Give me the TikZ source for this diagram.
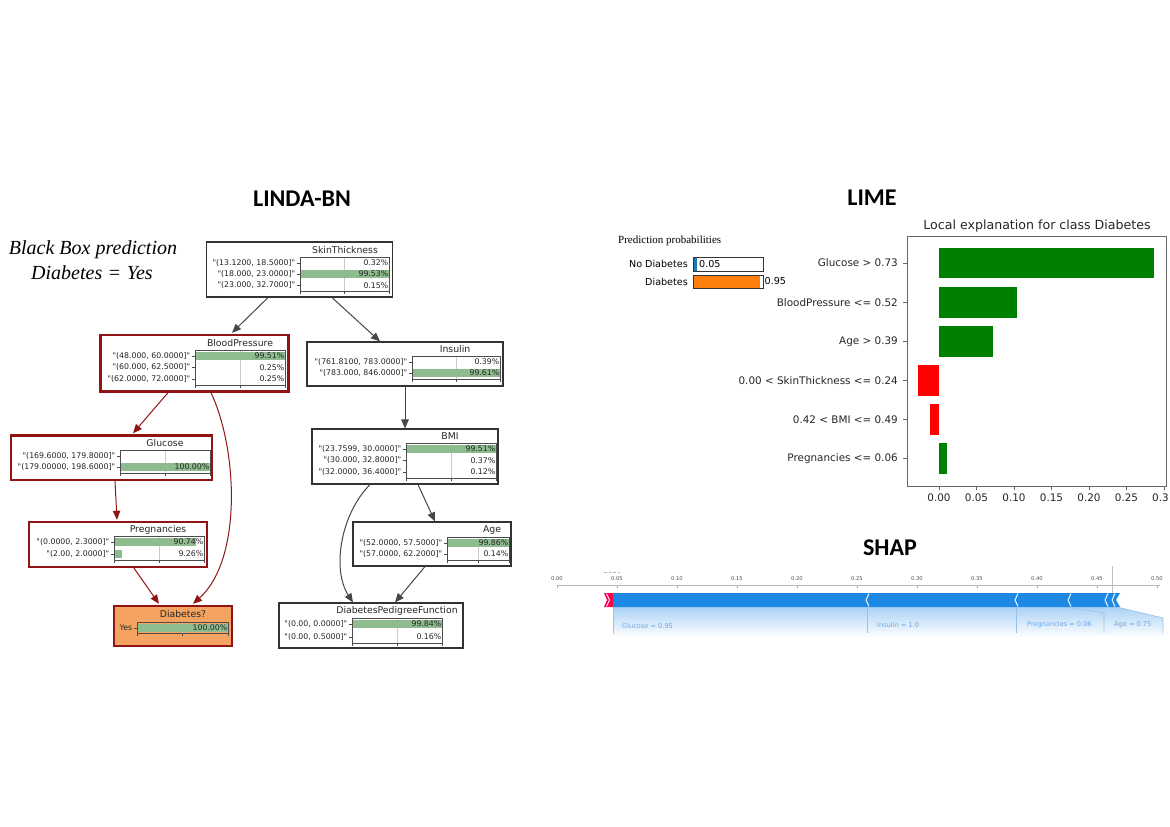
\documentclass[tikz,border=0pt]{standalone}
\usepackage{fontspec}
\newfontfamily\dv{DejaVu Sans}
\newfontfamily\carl{Carlito}
\newfontfamily\lser{Liberation Serif}
\usetikzlibrary{arrows.meta}
\definecolor{bngreen}{RGB}{143,188,143}
\definecolor{bnred}{RGB}{145,20,20}
\definecolor{diabfill}{RGB}{244,164,96}
\definecolor{edgegray}{RGB}{70,70,70}
\definecolor{limegreen}{RGB}{0,128,0}
\definecolor{limered}{RGB}{255,0,0}
\definecolor{pblue}{RGB}{31,119,180}
\definecolor{porange}{RGB}{255,127,14}
\definecolor{shapblue}{RGB}{30,136,229}
\definecolor{shapred}{RGB}{255,0,81}
\definecolor{shaplab}{RGB}{110,165,230}
\tikzset{
  bnbox/.style={draw=black!80, line width=1.1pt, fill=white, inner sep=0pt},
  bnredbox/.style={draw=bnred, line width=2.4pt, fill=white, inner sep=0pt},
  bntitle/.style={font=\dv\fontsize{9.3}{10}\selectfont, text=black!85, inner sep=0pt},
  rowlab/.style={font=\dv\fontsize{7.8}{8}\selectfont, text=black!85, inner sep=0pt},
  pctlab/.style={font=\dv\fontsize{7.8}{8}\selectfont, text=black!85, inner sep=0pt},
  bnedge/.style={draw=edgegray, line width=1pt, -{Triangle[length=9pt,width=7.5pt]}},
  rededge/.style={draw=bnred, line width=1pt, -{Triangle[length=9pt,width=7.5pt]}},
  limelab/.style={font=\dv\fontsize{10.4}{12}\selectfont, text=black!85, inner sep=0pt},
  shapt/.style={font=\dv\fontsize{5.2}{6}\selectfont, text=black!70, inner sep=0pt},
  shapl/.style={font=\dv\fontsize{6.6}{8}\selectfont, text=shaplab, inner sep=0pt, anchor=west},
  bigtitle/.style={font=\carl\bfseries\fontsize{24}{28}\selectfont, inner sep=0pt}
}
% rows: x1, x2, y, label, fraction, pct
\newcommand{\bnrow}[6]{%
  \fill[bngreen] (#1,{#3-4}) rectangle ({#1+(#2-#1)*#5},{#3+4});
  \draw[black!70, line width=0.6pt] ({#1-3},#3) -- (#1,#3);
  \node[rowlab, anchor=east] at ({#1-4.5},#3) {#4};
  \node[pctlab, anchor=east] at ({#2-0.5},#3) {#6};
}
% area: x1, x2, ytop, ybot, rows
\newcommand{\bnarea}[5]{%
  \draw[gray!40, line width=0.5pt] ({(#1+#2)/2},#3) -- ({(#1+#2)/2},#4);
  #5
  \draw[black!70, line width=0.6pt] (#1,#3) rectangle (#2,#4);
  \draw[black!70, line width=0.6pt] (#1,#4) -- ++(0,2.5) ({(#1+#2)/2},#4) -- ++(0,2.5) (#2,#4) -- ++(0,2.5);
}
\begin{document}
\begin{tikzpicture}[x=1pt,y=-1pt]
\useasboundingbox[fill=white] (0,0) rectangle (1170,827);

% ---------------- titles ----------------
\node[bigtitle] (t1) at (302,199) {LINDA-BN};
\node[bigtitle] (t2) at (872,198) {LIME};
\node[bigtitle] (t3) at (890,548) {SHAP};
\node[font=\lser\itshape\fontsize{20}{24}\selectfont, inner sep=0pt] (bb1) at (93,250) {Black Box prediction};
\node[font=\lser\itshape\fontsize{20}{24}\selectfont, inner sep=0pt] (bb2) at (92,273) {Diabetes\hspace{0.33em}\textup{=}\hspace{0.33em}Yes};

% ---------------- LINDA-BN nodes ----------------
\node[bnbox, minimum width=186pt, minimum height=55pt] (st) at (299.5,269.5) {};
\node[bntitle] (stt) at (345,250) {SkinThickness};
\bnarea{300}{389}{257.5}{291.5}{%
  \bnrow{300}{389}{263}{"(13.1200, 18.5000]"}{0}{0.32\%}
  \bnrow{300}{389}{274}{"(18.000, 23.0000]"}{1}{99.53\%}
  \bnrow{300}{389}{285.5}{"(23.000, 32.7000]"}{0}{0.15\%}}

\node[bnbox, minimum width=196pt, minimum height=44pt] (ins) at (405,364) {};
\node[bntitle] (inst) at (455,349) {Insulin};
\bnarea{412}{500}{356}{379}{%
  \bnrow{412}{500}{362}{"(761.8100, 783.0000]"}{0}{0.39\%}
  \bnrow{412}{500}{373}{"(783.000, 846.0000]"}{1}{99.61\%}}

\node[bnredbox, minimum width=188pt, minimum height=56.5pt] (bp) at (194.5,363.25) {};
\node[bntitle] (bpt) at (240,343) {BloodPressure};
\bnarea{195}{285}{350}{385}{%
  \bnrow{195}{285}{356}{"(48.000, 60.0000]"}{1}{99.51\%}
  \bnrow{195}{285}{367.5}{"(60.000, 62.5000]"}{0}{0.25\%}
  \bnrow{195}{285}{379}{"(62.0000, 72.0000]"}{0}{0.25\%}}

\node[bnredbox, minimum width=201pt, minimum height=44.5pt] (glu) at (111.5,457.75) {};
\node[bntitle] (glut) at (165,443) {Glucose};
\bnarea{120}{210}{450}{473}{%
  \bnrow{120}{210}{456}{"(169.6000, 179.8000]"}{0}{}
  \bnrow{120}{210}{467}{"(179.00000, 198.6000]"}{1}{100.00\%}}

\node[bnredbox, minimum width=178pt, minimum height=45pt] (preg) at (118,544.5) {};
\node[bntitle] (pregt) at (158,530) {Pregnancies};
\bnarea{114}{204}{536}{560}{%
  \bnrow{114}{204}{542}{"(0.0000, 2.3000]"}{0.9074}{90.74\%}
  \bnrow{114}{204}{554}{"(2.00, 2.0000]"}{0.0926}{9.26\%}}

\node[bnredbox, fill=diabfill, minimum width=118pt, minimum height=40pt] (diab) at (173,626) {};
\node[bntitle] (diabt) at (183,614) {Diabetes?};
\bnarea{137}{228}{622.5}{633.5}{%
  \bnrow{137}{228}{628}{Yes}{1}{100.00\%}}

\node[bnbox, minimum width=186pt, minimum height=55pt] (bmi) at (405,456.5) {};
\node[bntitle] (bmit) at (450,436) {BMI};
\bnarea{406}{496}{443}{478}{%
  \bnrow{406}{496}{449}{"(23.7599, 30.0000]"}{1}{99.51\%}
  \bnrow{406}{496}{460.5}{"(30.000, 32.8000]"}{0}{0.37\%}
  \bnrow{406}{496}{472}{"(32.0000, 36.4000]"}{0}{0.12\%}}

\node[bnbox, minimum width=158pt, minimum height=44pt] (age) at (432,544) {};
\node[bntitle] (aget) at (492,530) {Age};
\bnarea{447}{509}{537}{560}{%
  \bnrow{447}{509}{543}{"(52.0000, 57.5000]"}{1}{99.86\%}
  \bnrow{447}{509}{554}{"(57.0000, 62.2000]"}{0}{0.14\%}}

\node[bnbox, minimum width=184pt, minimum height=45pt] (dpf) at (371,625.5) {};
\node[bntitle] (dpft) at (397,611) {DiabetesPedigreeFunction};
\bnarea{352}{442}{618}{643}{%
  \bnrow{352}{442}{624}{"(0.00, 0.0000]"}{1}{99.84\%}
  \bnrow{352}{442}{637}{"(0.00, 0.5000]"}{0}{0.16\%}}

% ---------------- LINDA-BN edges ----------------
\draw[bnedge] ([xshift=-31.5pt]st.south) -- ([xshift=37.5pt,yshift=1pt]bp.north);
\draw[bnedge] ([xshift=32.5pt]st.south) -- ([xshift=-25pt]ins.north);
\draw[bnedge] (ins.south) -- (bmi.north);
\draw[rededge] ([xshift=-26.5pt]bp.south) -- ([xshift=21.5pt,yshift=1pt]glu.north);
\draw[rededge] ([xshift=16.5pt]bp.south) .. controls (238,450) and (242,560) .. ([xshift=20pt,yshift=1pt]diab.north);
\draw[rededge] ([xshift=3.5pt]glu.south) -- ([xshift=-1pt,yshift=1pt]preg.north);
\draw[rededge] ([xshift=16pt]preg.south) -- ([xshift=-14pt,yshift=1pt]diab.north);
\draw[bnedge] ([xshift=-35pt]bmi.south) .. controls (340,515) and (332,570) .. ([xshift=-18pt]dpf.north);
\draw[bnedge] ([xshift=13pt]bmi.south) -- ([xshift=3pt]age.north);
\draw[bnedge] ([xshift=-7pt]age.south) -- ([xshift=24pt]dpf.north);

% ---------------- LIME prediction probabilities ----------------
\node[font=\lser\fontsize{11}{13}\selectfont, inner sep=0pt, anchor=west] (pp) at (618,241) {Prediction probabilities};
\node[font=\dv\fontsize{9.6}{11}\selectfont, inner sep=0pt, anchor=east] (nd) at (688,264) {No Diabetes};
\node[font=\dv\fontsize{9.6}{11}\selectfont, inner sep=0pt, anchor=east] (dd) at (688,281.5) {Diabetes};
\fill[pblue] (693,257) rectangle (696.5,271);
\draw[black!80, line width=0.7pt] (693,257) rectangle (763,271);
\node[font=\dv\fontsize{9.6}{11}\selectfont, inner sep=0pt, anchor=west] (ndv) at (699,264) {0.05};
\fill[porange] (693,275) rectangle (760,288);
\draw[black!80, line width=0.7pt] (693,275) rectangle (763,288);
\node[font=\dv\fontsize{9.6}{11}\selectfont, inner sep=0pt, anchor=west] (ddv) at (764.5,281.5) {0.95};

% ---------------- LIME chart ----------------
\node[font=\dv\fontsize{12.6}{14}\selectfont, text=black!85, inner sep=0pt] (lt) at (1037,226) {Local explanation for class Diabetes};
\fill[limegreen] (939,248) rectangle (1154,278);
\fill[limegreen] (939,287) rectangle (1017,318);
\fill[limegreen] (939,326) rectangle (993,357);
\fill[limered] (918,365) rectangle (939,396);
\fill[limered] (930,404) rectangle (939,435);
\fill[limegreen] (939,443) rectangle (947,474);
\draw[black!60, line width=1pt] (907,236) rectangle (1166,486);
\foreach \yy/\lab in {263/{Glucose > 0.73}, 302.5/{BloodPressure <= 0.52}, 341.5/{Age > 0.39},
  380.5/{0.00 < SkinThickness <= 0.24}, 419.5/{0.42 < BMI <= 0.49}, 458.5/{Pregnancies <= 0.06}}{
  \draw[black!60, line width=0.8pt] (903,\yy) -- (907,\yy);
  \node[limelab, anchor=east] at (898,\yy) {\lab};
}
\foreach \i/\lab in {0/0.00, 1/0.05, 2/0.10, 3/0.15, 4/0.20, 5/0.25}{
  \draw[black!60, line width=0.8pt] ({939+37.5*\i},486) -- ({939+37.5*\i},490);
  \node[limelab] at ({939+37.5*\i},497.5) {\lab};
}
\draw[black!60, line width=0.8pt] (1164,486) -- (1164,490);
\node[limelab, anchor=west] at (1152,497.5) {0.3};

% ---------------- SHAP ----------------
\draw[black!25, line width=0.5pt] (1112,566) -- (1112,593);
\draw[gray!60, line width=0.8pt, dash pattern=on 2.5pt off 2pt] (604,572) -- (622,572);
\draw[gray!55, line width=0.8pt] (557,585.5) -- (1160,585.5);
\foreach \i/\lab in {0/0.00,1/0.05,2/0.10,3/0.15,4/0.20,5/0.25,6/0.30,7/0.35,8/0.40,9/0.45,10/0.50}{
  \draw[gray!70, line width=0.5pt] ({557+60*\i},585.5) -- ({557+60*\i},588);
  \node[shapt] at ({557+60*\i},579) {\lab};
}
\shade[top color=shapblue!38, bottom color=white] (613,607) -- (1117,607) -- (1163,618) -- (1163,637) -- (613,637) -- cycle;
\fill[shapblue] (613,593) -- (1120,593) -- (1116,600) -- (1120,607) -- (613,607) -- cycle;
\foreach \cx in {866,1015,1068,1105,1112}{
  \draw[white, line width=0.9pt] ({\cx+3},593.5) -- (\cx,600) -- ({\cx+3},606.5);
}
\fill[shapred] (604,593) -- (613,593) -- (613,607) -- (604,607) -- (607,600) -- cycle;
\draw[white, line width=0.8pt] (606.5,593.5) -- (609.5,600) -- (606.5,606.5);
\draw[shapred!40, line width=0.6pt] (613,607) -- (613,634);
\draw[shaplab!70, line width=0.6pt] (867,607) -- (867,633);
\draw[shaplab!70, line width=0.6pt] (1016,607) -- (1016,633);
\draw[shaplab!70, line width=0.6pt] (1068,607) -- (1104,613) -- (1104,633);
\draw[shaplab!70, line width=0.6pt] (1117,607) -- (1163,618) -- (1163,633);
\node[shapl] (s1) at (622,626) {Glucose = 0.95};
\node[shapl] (s2) at (877,625) {Insulin = 1.0};
\node[shapl] (s3) at (1027,625) {Pregnancies = 0.06};
\node[shapl] (s4) at (1114,625) {Age = 0.75};
\end{tikzpicture}
\end{document}
